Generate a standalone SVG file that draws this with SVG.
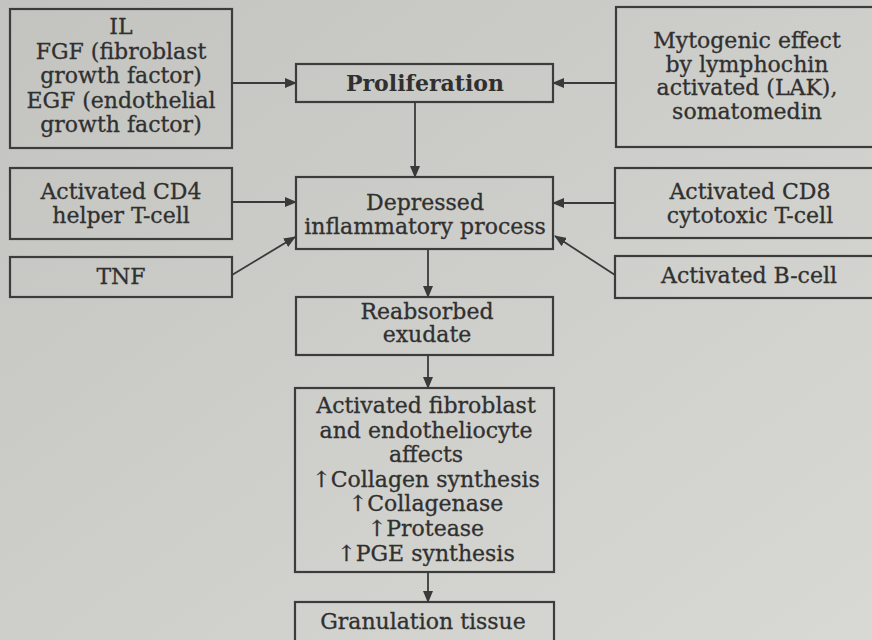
<svg xmlns="http://www.w3.org/2000/svg" width="872" height="640" viewBox="0 0 872 640">
  <defs>
    <linearGradient id="paper" x1="0" y1="0" x2="1" y2="1">
      <stop offset="0" stop-color="#c3c3bf"/>
      <stop offset="0.6" stop-color="#d0d0cc"/>
      <stop offset="1" stop-color="#d8d8d4"/>
    </linearGradient>
    <marker id="head" viewBox="0 0 12 10" refX="11" refY="5" markerWidth="12" markerHeight="10" markerUnits="userSpaceOnUse" orient="auto">
      <path d="M0,0 L12,5 L0,10 Z" fill="#3a3a3a"/>
    </marker>
  </defs>
  <style>
    .box { fill: none; stroke: #3c3c3c; stroke-width: 2.2; }
    .t { font-family: "DejaVu Serif", "Liberation Serif", serif; font-size: 22px; fill: #303030; stroke: #303030; stroke-width: 0.3; text-anchor: middle; }
    .b { font-weight: bold; stroke-width: 0; }
    .link { fill: none; stroke: #3a3a3a; stroke-width: 1.8; marker-end: url(#head); }
  </style>

  <rect width="872" height="640" fill="url(#paper)"/>

  <!-- inputs on the left -->
  <g id="growth-factors">
    <rect class="box" x="10" y="9" width="222" height="139"/>
    <text class="t" x="121" y="34">IL</text>
    <text class="t" x="121" y="59">FGF (fibroblast</text>
    <text class="t" x="121" y="83">growth factor)</text>
    <text class="t" x="121" y="108">EGF (endothelial</text>
    <text class="t" x="121" y="132">growth factor)</text>
  </g>
  <g id="cd4">
    <rect class="box" x="10" y="168" width="222" height="71"/>
    <text class="t" x="121" y="199">Activated CD4</text>
    <text class="t" x="121" y="223">helper T-cell</text>
  </g>
  <g id="tnf">
    <rect class="box" x="10" y="257" width="222" height="40"/>
    <text class="t" x="121" y="284">TNF</text>
  </g>

  <!-- inputs on the right (run past the page edge) -->
  <g id="mytogenic">
    <rect class="box" x="616" y="7" width="270" height="140"/>
    <text class="t" x="747" y="48">Mytogenic effect</text>
    <text class="t" x="747" y="72">by lymphochin</text>
    <text class="t" x="747" y="95">activated (LAK),</text>
    <text class="t" x="747" y="119">somatomedin</text>
  </g>
  <g id="cd8">
    <rect class="box" x="615" y="168" width="270" height="70"/>
    <text class="t" x="750" y="199">Activated CD8</text>
    <text class="t" x="750" y="223">cytotoxic T-cell</text>
  </g>
  <g id="bcell">
    <rect class="box" x="615" y="256" width="270" height="42"/>
    <text class="t" x="749" y="283">Activated B-cell</text>
  </g>

  <!-- central chain -->
  <g id="proliferation">
    <rect class="box" x="296" y="64" width="257" height="38"/>
    <text class="t b" x="425" y="91">Proliferation</text>
  </g>
  <g id="depressed">
    <rect class="box" x="296" y="177" width="257" height="72"/>
    <text class="t" x="425" y="210">Depressed</text>
    <text class="t" x="425" y="234">inflammatory process</text>
  </g>
  <g id="reabsorbed">
    <rect class="box" x="296" y="297" width="257" height="58"/>
    <text class="t" x="427" y="319">Reabsorbed</text>
    <text class="t" x="427" y="342">exudate</text>
  </g>
  <g id="fibroblast">
    <rect class="box" x="295" y="388" width="259" height="184"/>
    <text class="t" x="426" y="413">Activated fibroblast</text>
    <text class="t" x="426" y="438">and endotheliocyte</text>
    <text class="t" x="426" y="462">affects</text>
    <text class="t" x="426" y="487">↑Collagen synthesis</text>
    <text class="t" x="426" y="511">↑Collagenase</text>
    <text class="t" x="426" y="536">↑Protease</text>
    <text class="t" x="426" y="561">↑PGE synthesis</text>
  </g>
  <g id="granulation">
    <rect class="box" x="295" y="602" width="259" height="50"/>
    <text class="t" x="423" y="629">Granulation tissue</text>
  </g>

  <g id="connectors">
    <path class="link" d="M232,83 L296,83"/>
    <path class="link" d="M616,83 L553,83"/>
    <path class="link" d="M415,102 L415,177"/>
    <path class="link" d="M232,202 L296,202"/>
    <path class="link" d="M232,275 L295,237"/>
    <path class="link" d="M615,203 L553,203"/>
    <path class="link" d="M615,275 L555,236"/>
    <path class="link" d="M428,249 L428,297"/>
    <path class="link" d="M428,355 L428,388"/>
    <path class="link" d="M428,572 L428,602"/>
  </g>
</svg>
